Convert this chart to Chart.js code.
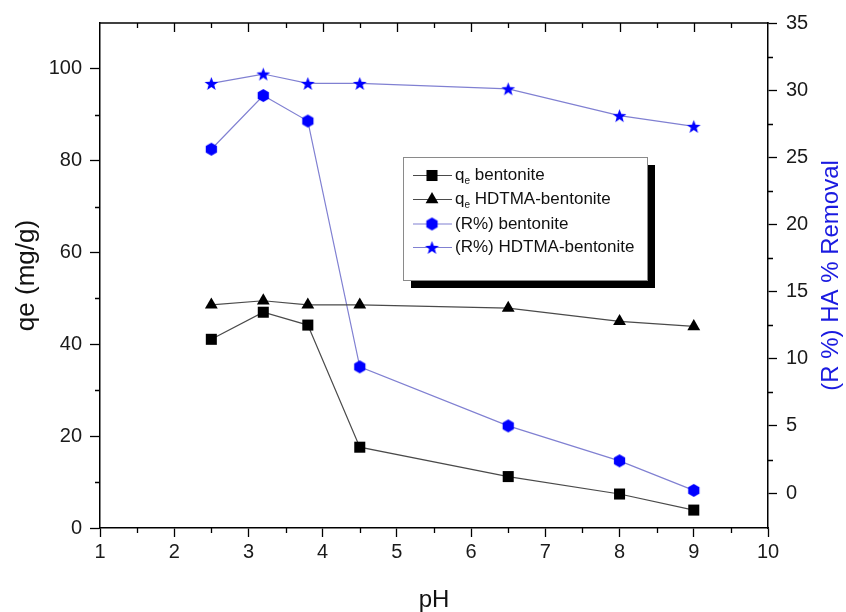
<!DOCTYPE html>
<html>
<head>
<meta charset="utf-8">
<script src="https://cdn.jsdelivr.net/npm/chart.js@4/dist/chart.umd.min.js"></script>
<style>
html,body{margin:0;padding:0;background:#fff;}
#wrap{width:846px;height:612px;position:relative;}
</style>
</head>
<body>
<div id="wrap"><canvas id="c" width="846" height="612"></canvas></div>
<script>
// ---- data ----
const pH = [2.5, 3.2, 3.8, 4.5, 6.5, 8, 9];
const qeBentonite = [41.1, 47.0, 44.2, 17.6, 11.2, 7.4, 3.9];
const qeHDTMA = [48.6, 49.5, 48.6, 48.6, 47.9, 45.0, 43.9];
const rBentonite = [25.6, 29.6, 27.7, 9.4, 5.0, 2.4, 0.2];
const rHDTMA = [30.5, 31.2, 30.5, 30.5, 30.1, 28.1, 27.3];

const seriesLabels = ['q_e bentonite', 'q_e HDTMA-bentonite', '(R%) bentonite', '(R%) HDTMA-bentonite'];

// ---- ticks ----
const xTicks = [1, 2, 3, 4, 5, 6, 7, 8, 9, 10];
const xMinor = [1.5, 2.5, 3.5, 4.5, 5.5, 6.5, 7.5, 8.5, 9.5];
const leftTicks = [0, 20, 40, 60, 80, 100];
const leftMinor = [10, 30, 50, 70, 90];
const rightTicks = [0, 5, 10, 15, 20, 25, 30, 35];
const rightMinor = [2.5, 7.5, 12.5, 17.5, 22.5, 27.5, 32.5];

const FONT = "'Liberation Sans', Arial, sans-serif";
const BLUE = '#0000ff';

function makeHex(R) {
  const s = Math.ceil(2 * R + 2);
  const c = document.createElement('canvas');
  c.width = s; c.height = s;
  const g = c.getContext('2d');
  g.fillStyle = BLUE;
  g.beginPath();
  for (let i = 0; i < 6; i++) {
    const a = -Math.PI / 2 + i * Math.PI / 3;
    const px = s / 2 + R * Math.cos(a), py = s / 2 + R * Math.sin(a);
    if (i === 0) g.moveTo(px, py); else g.lineTo(px, py);
  }
  g.closePath(); g.fill();
  return c;
}
function makeStar(R) {
  const s = Math.ceil(2 * R + 2);
  const c = document.createElement('canvas');
  c.width = s; c.height = s;
  const g = c.getContext('2d');
  g.fillStyle = BLUE;
  g.beginPath();
  const r = R * 0.42;
  for (let i = 0; i < 10; i++) {
    const a = -Math.PI / 2 + i * Math.PI / 5;
    const rr = i % 2 === 0 ? R : r;
    const px = s / 2 + rr * Math.cos(a), py = s / 2 + 0.6 + rr * Math.sin(a);
    if (i === 0) g.moveTo(px, py); else g.lineTo(px, py);
  }
  g.closePath(); g.fill();
  return c;
}
const hexImg = makeHex(6.5);
const starImg = makeStar(7.2);

function pts(ys) { return pH.map((v, i) => ({x: v, y: ys[i]})); }

const GREYLINE = '#4a4a4a';
const BLUELINE = '#8080d2';

const datasets = [
  {label: seriesLabels[0], data: pts(qeBentonite), yAxisID: 'y', borderColor: GREYLINE, backgroundColor: '#000',
   pointBackgroundColor: '#000', pointStyle: 'rect', pointRadius: 7.8, pointBorderWidth: 0, borderWidth: 1.2},
  {label: seriesLabels[1], data: pts(qeHDTMA), yAxisID: 'y', borderColor: GREYLINE, backgroundColor: '#000',
   pointBackgroundColor: '#000', pointStyle: 'triangle', pointRadius: 7.4, pointBorderWidth: 0, borderWidth: 1.2},
  {label: seriesLabels[2], data: pts(rBentonite), yAxisID: 'y1', borderColor: BLUELINE, backgroundColor: BLUE,
   pointBackgroundColor: BLUE, pointStyle: hexImg, pointRadius: 6, pointBorderWidth: 0, borderWidth: 1.2},
  {label: seriesLabels[3], data: pts(rHDTMA), yAxisID: 'y1', borderColor: BLUELINE, backgroundColor: BLUE,
   pointBackgroundColor: BLUE, pointStyle: starImg, pointRadius: 6, pointBorderWidth: 0, borderWidth: 1.2}
];

function drawMarker(ctx, ds, x, y) {
  const st = ds.pointStyle;
  ctx.fillStyle = ds.pointBackgroundColor;
  if (st === 'rect') {
    const h = Math.SQRT1_2 * ds.pointRadius;
    ctx.fillRect(x - h, y - h, 2 * h, 2 * h);
  } else if (st === 'triangle') {
    const r = ds.pointRadius;
    ctx.beginPath();
    ctx.moveTo(x, y - r);
    ctx.lineTo(x + r * Math.sin(Math.PI / 3), y + r / 2);
    ctx.lineTo(x - r * Math.sin(Math.PI / 3), y + r / 2);
    ctx.closePath(); ctx.fill();
  } else {
    ctx.drawImage(st, x - st.width / 2, y - st.height / 2);
  }
}

const decor = {
  id: 'decor',
  afterDraw(chart) {
    const {ctx, chartArea: a, scales} = chart;
    const x = scales.x, y = scales.y, y1 = scales.y1;
    ctx.save();
    ctx.strokeStyle = '#000';
    ctx.lineWidth = 1.5;
    ctx.beginPath();
    ctx.moveTo(a.left - 0.75, a.top); ctx.lineTo(a.right + 0.75, a.top);
    ctx.stroke();
    ctx.lineWidth = 1.3;
    ctx.beginPath();
    xMinor.forEach(v => {
      const px = Math.round(x.getPixelForValue(v)) + 0.5;
      ctx.moveTo(px, a.bottom); ctx.lineTo(px, a.bottom + 5);
      ctx.moveTo(px, a.top); ctx.lineTo(px, a.top + 5);
    });
    xTicks.forEach(v => {
      if (v === xTicks[0] || v === xTicks[xTicks.length - 1]) return;
      const px = Math.round(x.getPixelForValue(v)) + 0.5;
      ctx.moveTo(px, a.top); ctx.lineTo(px, a.top + 9);
    });
    leftMinor.forEach(v => {
      const py = Math.round(y.getPixelForValue(v)) + 0.5;
      ctx.moveTo(a.left, py); ctx.lineTo(a.left - 5, py);
    });
    rightMinor.forEach(v => {
      const py = Math.round(y1.getPixelForValue(v)) + 0.5;
      ctx.moveTo(a.right, py); ctx.lineTo(a.right + 5, py);
    });
    ctx.stroke();

    // right axis title (reads bottom-to-top)
    ctx.save();
    ctx.translate(831, (a.top + a.bottom) / 2);
    ctx.rotate(-Math.PI / 2);
    ctx.font = '24px ' + FONT;
    ctx.fillStyle = '#1a1ae0';
    ctx.textAlign = 'center';
    ctx.textBaseline = 'middle';
    ctx.fillText('(R %) HA % Removal', 0, 0);
    ctx.restore();

    // legend
    const bx = 403, by = 157, bw = 244, bh = 123, sh = 8;
    ctx.fillStyle = '#000';
    ctx.fillRect(bx + sh, by + sh, bw, bh);
    ctx.fillStyle = '#fff';
    ctx.fillRect(bx, by, bw, bh);
    ctx.strokeStyle = '#8a8a8a';
    ctx.lineWidth = 1;
    ctx.strokeRect(bx + 0.5, by + 0.5, bw, bh);
    const rows = [175.5, 199.5, 224, 247.5];
    chart.data.datasets.forEach((ds, i) => {
      const ry = rows[i];
      ctx.strokeStyle = ds.borderColor;
      ctx.lineWidth = 1.2;
      ctx.beginPath(); ctx.moveTo(413, ry); ctx.lineTo(452, ry); ctx.stroke();
      drawMarker(ctx, ds, 432, ry);
      ctx.fillStyle = '#111';
      ctx.textBaseline = 'middle';
      ctx.textAlign = 'left';
      let tx = 455;
      const lab = ds.label;
      const k = lab.indexOf('_');
      if (k >= 0) {
        const base = lab.slice(0, k), sub = lab.charAt(k + 1), rest = lab.slice(k + 2);
        ctx.font = '17px ' + FONT;
        ctx.fillText(base, tx, ry);
        tx += ctx.measureText(base).width;
        ctx.font = '10px ' + FONT;
        ctx.fillText(sub, tx, ry + 6);
        tx += ctx.measureText(sub).width;
        ctx.font = '17px ' + FONT;
        ctx.fillText(rest, tx, ry);
      } else {
        ctx.font = '17px ' + FONT;
        ctx.fillText(lab, tx, ry);
      }
    });
    ctx.restore();
  }
};

new Chart(document.getElementById('c'), {
  type: 'line',
  data: {datasets},
  options: {
    responsive: false,
    animation: false,
    devicePixelRatio: 1,
    layout: {padding: {top: 23, left: 0, right: 0, bottom: 0}},
    plugins: {legend: {display: false}, tooltip: {enabled: false}},
    elements: {line: {tension: 0}},
    scales: {
      x: {
        type: 'linear', position: 'bottom', min: 1, max: 10,
        afterBuildTicks: s => { s.ticks = xTicks.map(v => ({value: v})); },
        afterFit: s => { s.height = 84; },
        grid: {drawOnChartArea: false, drawTicks: true, tickLength: 9, tickColor: '#000', tickWidth: 1.3},
        border: {display: true, color: '#000', width: 1.5},
        ticks: {font: {family: FONT, size: 20}, color: '#1a1a1a', padding: 3, maxRotation: 0, autoSkip: false},
        title: {display: true, text: 'pH', font: {family: FONT, size: 24}, color: '#111', padding: {top: 0, bottom: -3}}
      },
      y: {
        type: 'linear', position: 'left', min: 0, max: 110,
        afterBuildTicks: s => { s.ticks = leftTicks.map(v => ({value: v})); },
        afterFit: s => { s.width = 100; },
        grid: {drawOnChartArea: false, drawTicks: true, tickLength: 10, tickColor: '#000', tickWidth: 1.3},
        border: {display: true, color: '#000', width: 1.5},
        ticks: {font: {family: FONT, size: 20}, color: '#1a1a1a', padding: 8, autoSkip: false},
        title: {display: true, text: 'qe (mg/g)', font: {family: FONT, size: 26}, color: '#111', padding: {top: 11, bottom: 0}}
      },
      y1: {
        type: 'linear', position: 'right', min: -2.6, max: 35,
        afterBuildTicks: s => { s.ticks = rightTicks.map(v => ({value: v})); },
        afterFit: s => { s.width = 78; },
        grid: {drawOnChartArea: false, drawTicks: true, tickLength: 9, tickColor: '#000', tickWidth: 1.3},
        border: {display: true, color: '#000', width: 1.5},
        ticks: {font: {family: FONT, size: 20}, color: '#1a1a1a', padding: 9, autoSkip: false}
      }
    }
  },
  plugins: [decor]
});
</script>
</body>
</html>
